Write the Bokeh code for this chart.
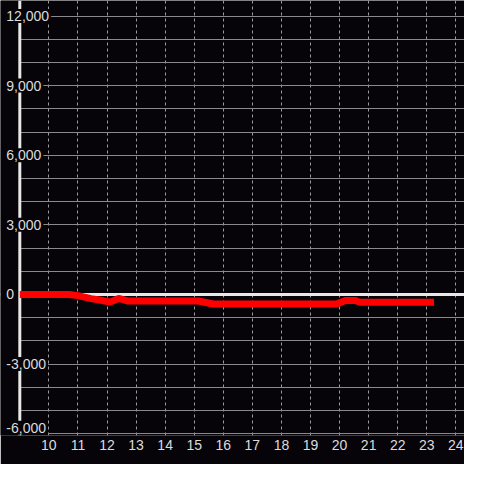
from bokeh.plotting import figure
from bokeh.models import Range1d, FixedTicker, Span, Label, BoxAnnotation
from bokeh.embed import file_html
from bokeh.resources import INLINE

# data
hours = [9.0, 10.7, 11.0, 11.45, 11.8, 12.1, 12.4, 12.7, 15.15, 15.65, 19.9, 20.2, 20.55, 20.7, 23.25]
pnl = [0, 0, -50, -180, -250, -330, -170, -280, -280, -410, -410, -260, -260, -340, -340]
x_ticks = list(range(10, 25))
y_grid_values = list(range(-6000, 12001, 1000))
y_label_values = [-6000, -3000, 0, 3000, 6000, 9000, 12000]
y_label_texts = ["-6,000", "-3,000", "0", "3,000", "6,000", "9,000", "12,000"]
x_start = 9

BG = "#060409"
TXT = "#dcdcdc"
FONT = "Liberation Sans"

p = figure(width=464, height=464, output_backend="svg", toolbar_location=None,
           x_range=Range1d(8.336, 24.297), y_range=Range1d(-6078, 12668),
           min_border_left=0, min_border_right=0, min_border_top=0, min_border_bottom=29,
           background_fill_color=BG, border_fill_color=BG, outline_line_color=None)

p.yaxis.visible = False

xa = p.xaxis[0]
xa.ticker = FixedTicker(ticks=x_ticks)
xa.axis_line_color = None
xa.major_tick_line_color = None
xa.minor_tick_line_color = None
xa.major_tick_out = 0
xa.major_tick_in = 0
xa.major_label_standoff = 4
xa.major_label_text_font = FONT
xa.major_label_text_font_size = "14px"
xa.major_label_text_color = TXT

p.xgrid.ticker = FixedTicker(ticks=x_ticks)
p.xgrid.grid_line_color = "#9a9a9a"
p.xgrid.grid_line_dash = "3 3"
p.xgrid.grid_line_width = 1

p.ygrid.ticker = FixedTicker(ticks=y_grid_values)
p.ygrid.grid_line_color = "#8a8a8a"
p.ygrid.grid_line_width = 1

# zero line, then mask everything left of the axis line, then the axis line
p.add_layout(Span(location=0, dimension="width", line_color="#e8e8e8", line_width=3, level="underlay"))
p.add_layout(BoxAnnotation(right=x_start, fill_color=BG, fill_alpha=1.0, line_color=None, level="underlay"))
p.add_layout(Span(location=x_start, dimension="height", line_color="#e8e8e8", line_width=3, level="underlay"))

p.line(hours, pnl, line_color="#ff0000", line_width=7, line_cap="butt")

for v, t in zip(y_label_values, y_label_texts):
    p.add_layout(Label(x=x_start, y=v, text=t, x_offset=-15.5, y_offset=6 if v == -6000 else 0,
                       text_align="left", text_baseline="middle",
                       text_font=FONT, text_font_size="14px", text_color=TXT,
                       background_fill_color=BG, padding=2))

open("out.html", "w").write(file_html(p, INLINE))
